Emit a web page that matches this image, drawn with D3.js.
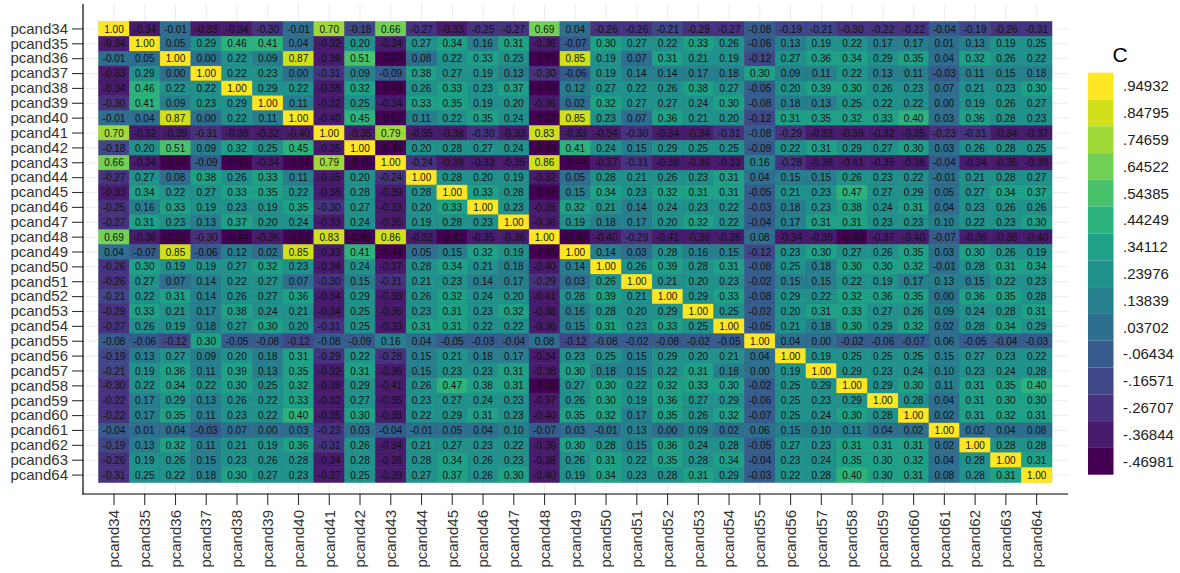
<!DOCTYPE html>
<html>
<head>
<meta charset="utf-8">
<script src="https://cdn.jsdelivr.net/npm/d3@7/dist/d3.min.js"></script>
<style>
  body { margin: 0; background: #fff; }
  text { font-family: "Liberation Sans", Arial, sans-serif; }
</style>
</head>
<body>
<div id="chart"></div>
<script>
var vars = ["pcand34","pcand35","pcand36","pcand37","pcand38","pcand39","pcand40","pcand41",
  "pcand42","pcand43","pcand44","pcand45","pcand46","pcand47","pcand48","pcand49","pcand50",
  "pcand51","pcand52","pcand53","pcand54","pcand55","pcand56","pcand57","pcand58","pcand59",
  "pcand60","pcand61","pcand62","pcand63","pcand64"];

// correlation matrix, one row per variable (same order as vars)
var corr = [
  [1.00,-0.34,-0.01,-0.33,-0.34,-0.30,-0.01,0.70,-0.18,0.66,-0.27,-0.33,-0.25,-0.27,0.69,0.04,-0.26,-0.26,-0.21,-0.29,-0.27,-0.08,-0.19,-0.21,-0.30,-0.22,-0.22,-0.04,-0.19,-0.26,-0.31],
  [-0.34,1.00,0.05,0.29,0.46,0.41,0.04,-0.32,0.20,-0.34,0.27,0.34,0.16,0.31,-0.36,-0.07,0.30,0.27,0.22,0.33,0.26,-0.06,0.13,0.19,0.22,0.17,0.17,0.01,0.13,0.19,0.25],
  [-0.01,0.05,1.00,0.00,0.22,0.09,0.87,-0.39,0.51,-0.52,0.08,0.22,0.33,0.23,-0.52,0.85,0.19,0.07,0.31,0.21,0.19,-0.12,0.27,0.36,0.34,0.29,0.35,0.04,0.32,0.26,0.22],
  [-0.33,0.29,0.00,1.00,0.22,0.23,-0.00,-0.31,0.09,-0.09,0.38,0.27,0.19,0.13,-0.30,-0.06,0.19,0.14,0.14,0.17,0.18,0.30,0.09,0.11,0.22,0.13,0.11,-0.03,0.11,0.15,0.18],
  [-0.34,0.46,0.22,0.22,1.00,0.29,0.22,-0.38,0.32,-0.43,0.26,0.33,0.23,0.37,-0.44,0.12,0.27,0.22,0.26,0.38,0.27,-0.05,0.20,0.39,0.30,0.26,0.23,0.07,0.21,0.23,0.30],
  [-0.30,0.41,0.09,0.23,0.29,1.00,0.11,-0.32,0.25,-0.34,0.33,0.35,0.19,0.20,-0.36,0.02,0.32,0.27,0.27,0.24,0.30,-0.08,0.18,0.13,0.25,0.22,0.22,-0.00,0.19,0.26,0.27],
  [-0.01,0.04,0.87,-0.00,0.22,0.11,1.00,-0.40,0.45,-0.51,0.11,0.22,0.35,0.24,-0.52,0.85,0.23,0.07,0.36,0.21,0.20,-0.12,0.31,0.35,0.32,0.33,0.40,0.03,0.36,0.28,0.23],
  [0.70,-0.32,-0.39,-0.31,-0.38,-0.32,-0.40,1.00,-0.35,0.79,-0.35,-0.38,-0.30,-0.33,0.83,-0.33,-0.34,-0.30,-0.34,-0.34,-0.31,-0.08,-0.29,-0.32,-0.39,-0.32,-0.35,-0.23,-0.31,-0.34,-0.37],
  [-0.18,0.20,0.51,0.09,0.32,0.25,0.45,-0.35,1.00,-0.45,0.20,0.28,0.27,0.24,-0.45,0.41,0.24,0.15,0.29,0.25,0.25,-0.09,0.22,0.31,0.29,0.27,0.30,0.03,0.26,0.28,0.25],
  [0.66,-0.34,-0.52,-0.09,-0.43,-0.34,-0.51,0.79,-0.45,1.00,-0.24,-0.39,-0.33,-0.35,0.86,-0.44,-0.37,-0.31,-0.38,-0.36,-0.33,0.16,-0.28,-0.36,-0.41,-0.35,-0.38,-0.04,-0.34,-0.36,-0.39],
  [-0.27,0.27,0.08,0.38,0.26,0.33,0.11,-0.35,0.20,-0.24,1.00,0.28,0.20,0.19,-0.32,0.05,0.28,0.21,0.26,0.23,0.31,0.04,0.15,0.15,0.26,0.23,0.22,-0.01,0.21,0.28,0.27],
  [-0.33,0.34,0.22,0.27,0.33,0.35,0.22,-0.38,0.28,-0.39,0.28,1.00,0.33,0.28,-0.42,0.15,0.34,0.23,0.32,0.31,0.31,-0.05,0.21,0.23,0.47,0.27,0.29,0.05,0.27,0.34,0.37],
  [-0.25,0.16,0.33,0.19,0.23,0.19,0.35,-0.30,0.27,-0.33,0.20,0.33,1.00,0.23,-0.35,0.32,0.21,0.14,0.24,0.23,0.22,-0.03,0.18,0.23,0.38,0.24,0.31,0.04,0.23,0.26,0.26],
  [-0.27,0.31,0.23,0.13,0.37,0.20,0.24,-0.33,0.24,-0.35,0.19,0.28,0.23,1.00,-0.36,0.19,0.18,0.17,0.20,0.32,0.22,-0.04,0.17,0.31,0.31,0.23,0.23,0.10,0.22,0.23,0.30],
  [0.69,-0.36,-0.52,-0.30,-0.44,-0.36,-0.52,0.83,-0.45,0.86,-0.32,-0.42,-0.35,-0.36,1.00,-0.45,-0.40,-0.29,-0.41,-0.38,-0.36,0.08,-0.34,-0.38,-0.43,-0.37,-0.40,-0.07,-0.36,-0.38,-0.40],
  [0.04,-0.07,0.85,-0.06,0.12,0.02,0.85,-0.33,0.41,-0.44,0.05,0.15,0.32,0.19,-0.45,1.00,0.14,0.03,0.28,0.16,0.15,-0.12,0.23,0.30,0.27,0.26,0.35,0.03,0.30,0.26,0.19],
  [-0.26,0.30,0.19,0.19,0.27,0.32,0.23,-0.34,0.24,-0.37,0.28,0.34,0.21,0.18,-0.40,0.14,1.00,0.26,0.39,0.28,0.31,-0.08,0.25,0.18,0.30,0.30,0.32,-0.01,0.28,0.31,0.34],
  [-0.26,0.27,0.07,0.14,0.22,0.27,0.07,-0.30,0.15,-0.31,0.21,0.23,0.14,0.17,-0.29,0.03,0.26,1.00,0.21,0.20,0.23,-0.02,0.15,0.15,0.22,0.19,0.17,0.13,0.15,0.22,0.23],
  [-0.21,0.22,0.31,0.14,0.26,0.27,0.36,-0.34,0.29,-0.38,0.26,0.32,0.24,0.20,-0.41,0.28,0.39,0.21,1.00,0.29,0.33,-0.08,0.29,0.22,0.32,0.36,0.35,0.00,0.36,0.35,0.28],
  [-0.29,0.33,0.21,0.17,0.38,0.24,0.21,-0.34,0.25,-0.36,0.23,0.31,0.23,0.32,-0.38,0.16,0.28,0.20,0.29,1.00,0.25,-0.02,0.20,0.31,0.33,0.27,0.26,0.09,0.24,0.28,0.31],
  [-0.27,0.26,0.19,0.18,0.27,0.30,0.20,-0.31,0.25,-0.33,0.31,0.31,0.22,0.22,-0.36,0.15,0.31,0.23,0.33,0.25,1.00,-0.05,0.21,0.18,0.30,0.29,0.32,0.02,0.28,0.34,0.29],
  [-0.08,-0.06,-0.12,0.30,-0.05,-0.08,-0.12,-0.08,-0.09,0.16,0.04,-0.05,-0.03,-0.04,0.08,-0.12,-0.08,-0.02,-0.08,-0.02,-0.05,1.00,0.04,0.00,-0.02,-0.06,-0.07,0.06,-0.05,-0.04,-0.03],
  [-0.19,0.13,0.27,0.09,0.20,0.18,0.31,-0.29,0.22,-0.28,0.15,0.21,0.18,0.17,-0.34,0.23,0.25,0.15,0.29,0.20,0.21,0.04,1.00,0.19,0.25,0.25,0.25,0.15,0.27,0.23,0.22],
  [-0.21,0.19,0.36,0.11,0.39,0.13,0.35,-0.32,0.31,-0.36,0.15,0.23,0.23,0.31,-0.38,0.30,0.18,0.15,0.22,0.31,0.18,0.00,0.19,1.00,0.29,0.23,0.24,0.10,0.23,0.24,0.28],
  [-0.30,0.22,0.34,0.22,0.30,0.25,0.32,-0.39,0.29,-0.41,0.26,0.47,0.38,0.31,-0.43,0.27,0.30,0.22,0.32,0.33,0.30,-0.02,0.25,0.29,1.00,0.29,0.30,0.11,0.31,0.35,0.40],
  [-0.22,0.17,0.29,0.13,0.26,0.22,0.33,-0.32,0.27,-0.35,0.23,0.27,0.24,0.23,-0.37,0.26,0.30,0.19,0.36,0.27,0.29,-0.06,0.25,0.23,0.29,1.00,0.28,0.04,0.31,0.30,0.30],
  [-0.22,0.17,0.35,0.11,0.23,0.22,0.40,-0.35,0.30,-0.38,0.22,0.29,0.31,0.23,-0.40,0.35,0.32,0.17,0.35,0.26,0.32,-0.07,0.25,0.24,0.30,0.28,1.00,0.02,0.31,0.32,0.31],
  [-0.04,0.01,0.04,-0.03,0.07,-0.00,0.03,-0.23,0.03,-0.04,-0.01,0.05,0.04,0.10,-0.07,0.03,-0.01,0.13,0.00,0.09,0.02,0.06,0.15,0.10,0.11,0.04,0.02,1.00,0.02,0.04,0.08],
  [-0.19,0.13,0.32,0.11,0.21,0.19,0.36,-0.31,0.26,-0.34,0.21,0.27,0.23,0.22,-0.36,0.30,0.28,0.15,0.36,0.24,0.28,-0.05,0.27,0.23,0.31,0.31,0.31,0.02,1.00,0.28,0.28],
  [-0.26,0.19,0.26,0.15,0.23,0.26,0.28,-0.34,0.28,-0.36,0.28,0.34,0.26,0.23,-0.38,0.26,0.31,0.22,0.35,0.28,0.34,-0.04,0.23,0.24,0.35,0.30,0.32,0.04,0.28,1.00,0.31],
  [-0.31,0.25,0.22,0.18,0.30,0.27,0.23,-0.37,0.25,-0.39,0.27,0.37,0.26,0.30,-0.40,0.19,0.34,0.23,0.28,0.31,0.29,-0.03,0.22,0.28,0.40,0.30,0.31,0.08,0.28,0.31,1.00]
];

var legendLabels = [".94932",".84795",".74659",".64522",".54385",".44249",".34112",".23976",
  ".13839",".03702","-.06434","-.16571","-.26707","-.36844","-.46981"];
var colorMin = -0.5205, colorMax = 1.0, nBins = 15;

var width = 1180, height = 573;
var svg = d3.select("#chart").append("svg").attr("width", width).attr("height", height);

var panel = { left: 83, right: 1068, top: 4, bottom: 494 };

var x = d3.scaleBand().domain(vars).range([98.6, 1052]);
var y = d3.scaleBand().domain(vars).range([21.5, 482.5]);

var palette = d3.range(nBins).map(function(i) { return d3.interpolateViridis(i / (nBins - 1)); });
var color = d3.scaleQuantize().domain([colorMin, colorMax]).range(palette);

var cells = [];
corr.forEach(function(row, i) {
  row.forEach(function(v, j) {
    cells.push({ row: vars[i], col: vars[j], value: v });
  });
});

// grid
var grid = svg.append("g").attr("class", "grid");
grid.selectAll(".vgrid").data(vars).enter().append("line")
  .attr("x1", function(d) { return x(d) + x.bandwidth() / 2; })
  .attr("x2", function(d) { return x(d) + x.bandwidth() / 2; })
  .attr("y1", panel.top).attr("y2", panel.bottom)
  .style("stroke", "#ebebeb").style("stroke-width", 1);
grid.selectAll(".hgrid").data(vars).enter().append("line")
  .attr("y1", function(d) { return y(d) + y.bandwidth() / 2; })
  .attr("y2", function(d) { return y(d) + y.bandwidth() / 2; })
  .attr("x1", panel.left).attr("x2", panel.right)
  .style("stroke", "#ebebeb").style("stroke-width", 1);

// tiles
var tiles = svg.append("g");
tiles.selectAll("rect").data(cells).enter().append("rect")
  .attr("x", function(d) { return x(d.col); })
  .attr("y", function(d) { return y(d.row); })
  .attr("width", x.bandwidth())
  .attr("height", y.bandwidth())
  .attr("fill", function(d) { return color(d.value); })
  .attr("stroke", function(d) { return d3.color(color(d.value)).darker(0.25); })
  .attr("stroke-width", 0.5);

tiles.selectAll("text").data(cells).enter().append("text")
  .attr("x", function(d) { return x(d.col) + x.bandwidth() / 2; })
  .attr("y", function(d) { return y(d.row) + y.bandwidth() / 2; })
  .attr("dy", "0.36em")
  .attr("text-anchor", "middle")
  .attr("font-size", "10px")
  .attr("fill", "#111")
  .text(function(d) { return d3.format(".2f")(d.value).replace("−", "-"); });

// axes
var yAxis = svg.append("g").attr("transform", "translate(" + panel.left + ",0)")
  .call(d3.axisLeft(y).tickSize(11).tickPadding(4).tickSizeOuter(0));
yAxis.select(".domain").remove();
yAxis.selectAll("text").attr("font-size", "15px").attr("fill", "#333");
yAxis.selectAll(".tick line").attr("stroke", "#333").attr("stroke-width", 1.1);

var xAxis = svg.append("g").attr("transform", "translate(0," + panel.bottom + ")")
  .call(d3.axisBottom(x).tickSize(11).tickSizeOuter(0));
xAxis.select(".domain").remove();
xAxis.selectAll(".tick line").attr("stroke", "#333").attr("stroke-width", 1.1);
xAxis.selectAll("text")
  .attr("font-size", "15px").attr("fill", "#333")
  .attr("transform", "rotate(-90)")
  .attr("x", -16).attr("y", 0).attr("dy", "0.35em")
  .style("text-anchor", "end");

svg.append("line").attr("x1", panel.left).attr("x2", panel.left)
  .attr("y1", panel.top).attr("y2", panel.bottom + 0.5)
  .style("stroke", "#000").style("stroke-width", 1.2);
svg.append("line").attr("x1", panel.left - 0.5).attr("x2", panel.right)
  .attr("y1", panel.bottom).attr("y2", panel.bottom)
  .style("stroke", "#000").style("stroke-width", 1.2);

// legend
var legend = svg.append("g").attr("transform", "translate(1088,72.7)");
var swH = 26.8, swW = 25.5;
legend.append("text").attr("x", 32).attr("y", -11)
  .attr("text-anchor", "middle").attr("font-size", "21px").attr("fill", "#000").text("C");
legend.selectAll("rect").data(palette.slice().reverse()).enter().append("rect")
  .attr("x", 0).attr("y", function(d, i) { return i * swH; })
  .attr("width", swW).attr("height", swH)
  .attr("fill", function(d) { return d; });
legend.selectAll(".lab").data(legendLabels).enter().append("text")
  .attr("x", 35).attr("y", function(d, i) { return i * swH + swH / 2; })
  .attr("dy", "0.35em").attr("font-size", "15px").attr("fill", "#222")
  .text(function(d) { return d; });
</script>
</body>
</html>
